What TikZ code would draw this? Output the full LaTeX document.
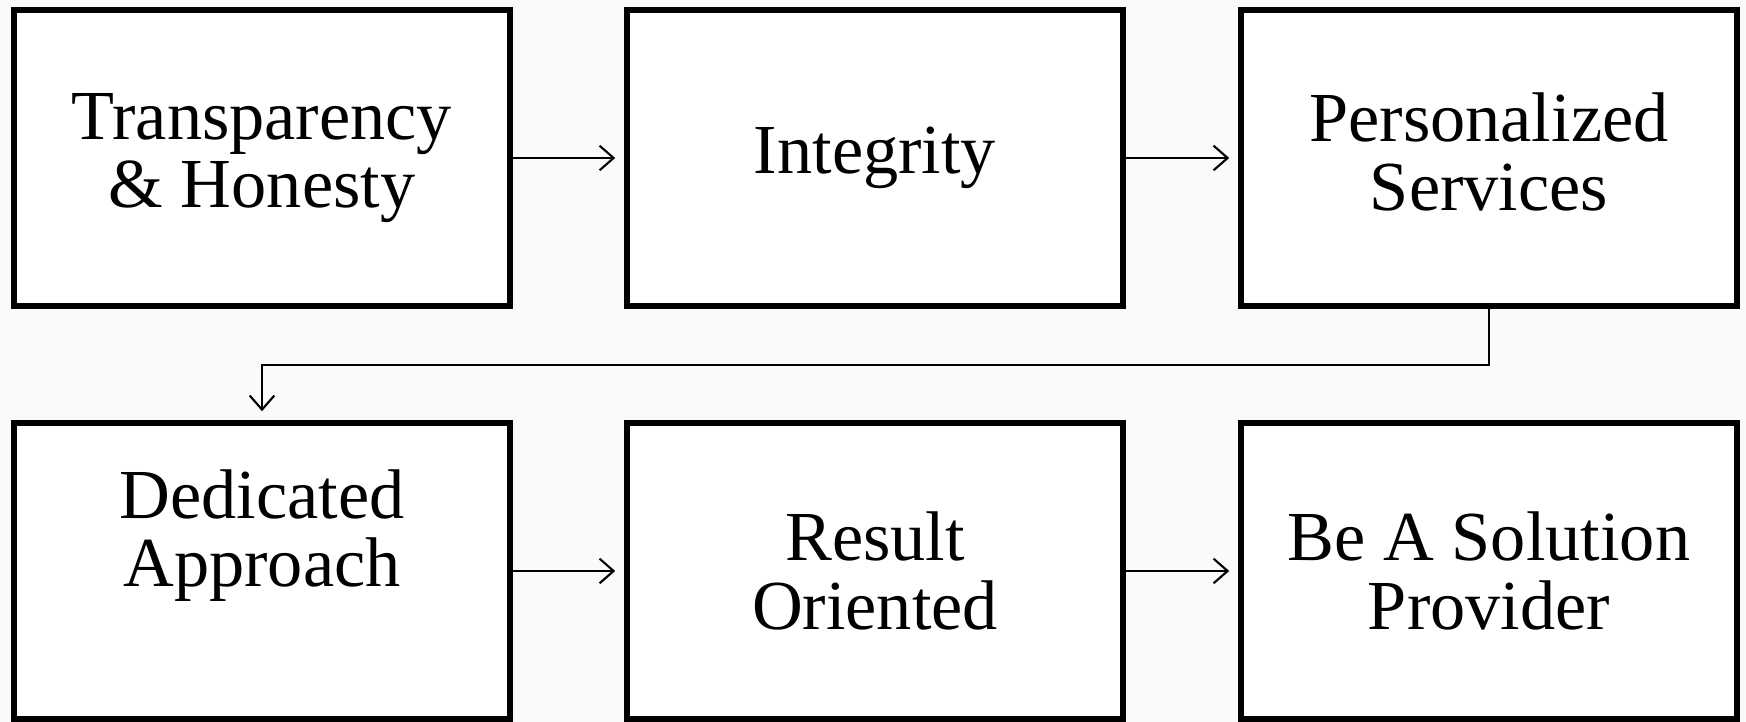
\documentclass[tikz,border=0pt]{standalone}
\usepackage{fontspec}
\setmainfont{Liberation Serif}
\usetikzlibrary{arrows.meta}

\tikzstyle{principle}=[rectangle, draw, line width=1.7pt, fill=white, minimum width=4.96cm, minimum height=2.96cm, align=center, font=\fontsize{20}{19.5}\selectfont]
\tikzstyle{flow}=[line width=0.6pt, -{Straight Barb[length=4pt,width=7pt]}, shorten >=2.5pt]

\begin{document}
\begin{tikzpicture}

\useasboundingbox (0,0) rectangle (17.46,7.22);
\fill[black!2] (0,0) rectangle (17.46,7.22);

\node[principle] (v1) at (2.62,5.64) {Transparency\\\& Honesty};
\node[principle] (v2) at (8.75,5.64) {Integrity};
\node[principle] (v3) at (14.89,5.64) {Personalized\\Services\\[-0.8em]{}};

\node[principle] (v4) at (2.62,1.51) {Dedicated\\Approach\\[0.25em]{}};
\node[principle] (v5) at (8.75,1.51) {Result\\Oriented};
\node[principle] (v6) at (14.89,1.51) {Be A Solution\\Provider};

\coordinate (turn) at (2.62,3.57);

\draw[flow] (v1) -- (v2);
\draw[flow] (v2) -- (v3);
\draw[flow] (v3.south) |- (turn) -- (v4.north);
\draw[flow] (v4) -- (v5);
\draw[flow] (v5) -- (v6);
\end{tikzpicture}
\end{document}
